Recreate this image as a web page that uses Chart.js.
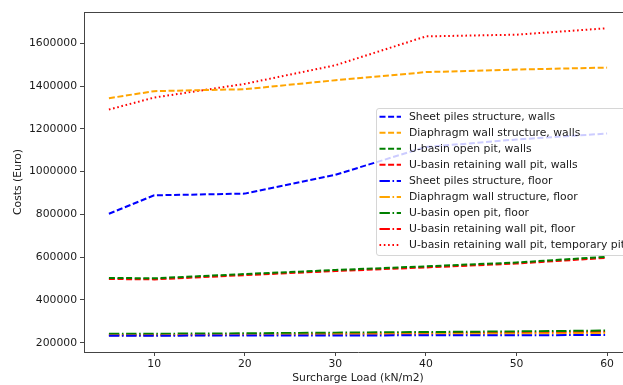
<!DOCTYPE html>
<html>
<head>
<meta charset="utf-8">
<script src="https://cdn.jsdelivr.net/npm/chart.js@4.4.1/dist/chart.umd.min.js"></script>
<style>
  html, body { margin: 0; padding: 0; background: #fff; overflow: hidden; }
  #wrap { width: 623px; height: 385px; overflow: hidden; }
</style>
</head>
<body>
<div id="wrap"><canvas id="costChart" width="640" height="385"></canvas></div>
<script>
// surcharge load (kN/m2)
const loads = [5, 10, 20, 30, 40, 50, 60];

// costs (Euro)
const sheetPilesWalls = [803000, 889000, 897000, 985000, 1115000, 1150000, 1178000];
const diaphragmWalls = [1343000, 1376000, 1385000, 1427000, 1465000, 1477000, 1486000];
const openPitWalls = [503000, 501000, 521000, 540000, 557000, 575000, 602000];
const retainingPitWalls = [498000, 496000, 516000, 535000, 552000, 570000, 597000];
const sheetPilesFloor = [233000, 233000, 233500, 234000, 234500, 235000, 236000];
const diaphragmFloor = [234000, 234000, 236000, 238000, 240000, 242000, 245000];
const openPitFloor = [242000, 242000, 244000, 247000, 250000, 253000, 257000];
const retainingPitFloor = [236000, 236000, 238000, 241000, 244000, 247000, 251000];
const temporaryPit = [1290000, 1346000, 1410000, 1497000, 1632000, 1640000, 1670000];

const xTicks = [10, 20, 30, 40, 50, 60];
const yTicks = [200000, 400000, 600000, 800000, 1000000, 1200000, 1400000, 1600000];

const FONT = 'DejaVu Sans';
const DASHED = [6, 2.6];
const DASHDOT = [10.4, 2.6, 1.6, 2.6];
const DOTTED = [1.6, 2.7];

function series(label, values, color, dash) {
  return {
    label,
    data: loads.map((x, i) => ({ x, y: values[i] })),
    borderColor: color,
    backgroundColor: color,
    borderWidth: 2,
    borderDash: dash,
    borderCapStyle: 'butt',
    pointRadius: 0,
    tension: 0,
    fill: false,
  };
}

const datasets = [
  series('Sheet piles structure, walls', sheetPilesWalls, '#0000ff', DASHED),
  series('Diaphragm wall structure, walls', diaphragmWalls, '#ffa500', DASHED),
  series('U-basin open pit, walls', openPitWalls, '#008000', DASHED),
  series('U-basin retaining wall pit, walls', retainingPitWalls, '#ff0000', DASHED),
  series('Sheet piles structure, floor', sheetPilesFloor, '#0000ff', DASHDOT),
  series('Diaphragm wall structure, floor', diaphragmFloor, '#ffa500', DASHDOT),
  series('U-basin open pit, floor', openPitFloor, '#008000', DASHDOT),
  series('U-basin retaining wall pit, floor', retainingPitFloor, '#ff0000', DASHDOT),
  series('U-basin retaining wall pit, temporary pit', temporaryPit, '#ff0000', DOTTED),
];

// top/right spines, like a matplotlib axes box
const framePlugin = {
  id: 'frame',
  afterDraw(chart) {
    const { ctx, chartArea: a } = chart;
    ctx.save();
    ctx.strokeStyle = '#444';
    ctx.lineWidth = 1;
    ctx.beginPath();
    ctx.moveTo(a.left, a.top + 0.5);
    ctx.lineTo(a.right, a.top + 0.5);
    ctx.moveTo(a.right - 0.5, a.top);
    ctx.lineTo(a.right - 0.5, a.bottom);
    ctx.stroke();
    ctx.restore();
  },
};

// semi-transparent legend box drawn over the lines
const boxLegend = {
  id: 'boxLegend',
  afterDatasetsDraw(chart) {
    const { ctx } = chart;
    const x = 376, y = 108, w = 280, rowH = 16.05, firstRow = 116.7;
    const h = 147;
    ctx.save();
    ctx.beginPath();
    ctx.roundRect(x + 0.5, y + 0.5, w, h, 2.5);
    ctx.fillStyle = 'rgba(255,255,255,0.8)';
    ctx.fill();
    ctx.strokeStyle = 'rgba(204,204,204,0.8)';
    ctx.lineWidth = 1;
    ctx.stroke();

    ctx.font = '10.8px "' + FONT + '"';
    ctx.textBaseline = 'middle';
    ctx.fillStyle = '#1a1a1a';
    chart.data.datasets.forEach((ds, i) => {
      const ry = firstRow + i * rowH;
      ctx.beginPath();
      ctx.setLineDash(ds.borderDash);
      ctx.lineCap = 'butt';
      ctx.strokeStyle = ds.borderColor;
      ctx.lineWidth = ds.borderWidth;
      ctx.moveTo(379.5, ry);
      ctx.lineTo(401, ry);
      ctx.stroke();
      ctx.setLineDash([]);
      ctx.fillText(ds.label, 409, ry + 0.5);
    });
    ctx.restore();
  },
};

const axisColor = '#444';
const tickFont = { family: FONT, size: 10.8 };

new Chart(document.getElementById('costChart'), {
  type: 'line',
  data: { datasets },
  plugins: [framePlugin, boxLegend],
  options: {
    responsive: false,
    animation: false,
    devicePixelRatio: 1,
    layout: { padding: { top: 12, right: 8, left: 0, bottom: 0 } },
    plugins: { legend: { display: false }, tooltip: { enabled: false } },
    scales: {
      x: {
        type: 'linear',
        min: 2.25,
        max: 62.75,
        afterBuildTicks: (scale) => { scale.ticks = xTicks.map((v) => ({ value: v })); },
        afterFit: (scale) => { scale.height = 33; },
        ticks: { color: '#1a1a1a', font: tickFont, padding: 2, maxRotation: 0 },
        grid: { drawOnChartArea: false, drawTicks: true, tickLength: 4, color: axisColor },
        border: { display: true, color: axisColor, width: 1 },
        title: {
          display: true,
          text: 'Surcharge Load (kN/m2)',
          color: '#1a1a1a',
          font: { family: FONT, size: 10.8 },
          padding: { top: 0, bottom: 0 },
        },
      },
      y: {
        type: 'linear',
        min: 156600,
        max: 1746000,
        afterBuildTicks: (scale) => { scale.ticks = yTicks.map((v) => ({ value: v })); },
        afterFit: (scale) => { scale.width = 84; },
        ticks: { color: '#1a1a1a', font: tickFont, padding: 3, callback: (v) => String(v) },
        grid: { drawOnChartArea: false, drawTicks: true, tickLength: 4, color: axisColor },
        border: { display: true, color: axisColor, width: 1 },
        title: {
          display: true,
          text: 'Costs (Euro)',
          color: '#1a1a1a',
          font: { family: FONT, size: 10.8 },
          padding: { top: 11.5, bottom: 0 },
        },
      },
    },
  },
});
</script>
</body>
</html>
